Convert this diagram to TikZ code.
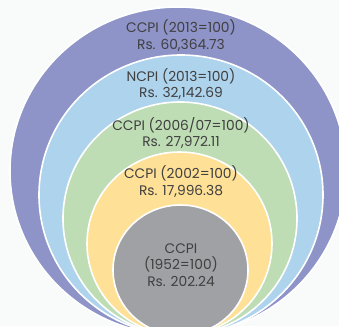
\documentclass[tikz,border=0pt]{standalone}
\usepackage{fontspec}
\setmainfont{Poppins}
\definecolor{bg}{HTML}{F9FBFB}
\definecolor{cpurple}{HTML}{8E93C8}
\definecolor{cblue}{HTML}{AED3EC}
\definecolor{cgreen}{HTML}{BEDDB4}
\definecolor{cyellow}{HTML}{FEE096}
\definecolor{cgray}{HTML}{A0A1A5}
\definecolor{ctext}{HTML}{404040}
\tikzset{
  ring/.style={draw=white, line width=1.6pt},
  lbl/.style={text=ctext, font=\fontsize{13.8}{16.5}\selectfont, align=center, inner sep=0pt}
}
\begin{document}
\begin{tikzpicture}[x=1pt,y=-1pt]
\useasboundingbox (0,0) rectangle (339,326);
\fill[bg] (0,0) rectangle (339,326);
\clip (0,0) rectangle (339,326);
\path[ring, fill=cpurple] (178,171) ellipse [x radius=168, y radius=164];
\path[ring, fill=cblue] (181,195) ellipse [x radius=142, y radius=140];
\path[ring, fill=cgreen] (180,218.5) ellipse [x radius=117, y radius=116.5];
\path[ring, fill=cyellow] (179.5,243.5) ellipse [x radius=92.5, y radius=91.5];
\path[ring, fill=cgray] (180.5,270) ellipse [x radius=67.5, y radius=65];
\node[lbl] (t1) at (181,35.5) {CCPI (2013=100)\\Rs. 60,364.73};
\node[lbl] (t2) at (181,84) {NCPI (2013=100)\\Rs. 32,142.69};
\node[lbl] (t3) at (181,133) {CCPI (2006/07=100)\\Rs. 27,972.11};
\node[lbl] (t4) at (181,181.5) {CCPI (2002=100)\\Rs. 17,996.38};
\node[lbl] (t5) at (181,265) {CCPI\\(1952=100)\\Rs. 202.24};
\end{tikzpicture}
\end{document}
